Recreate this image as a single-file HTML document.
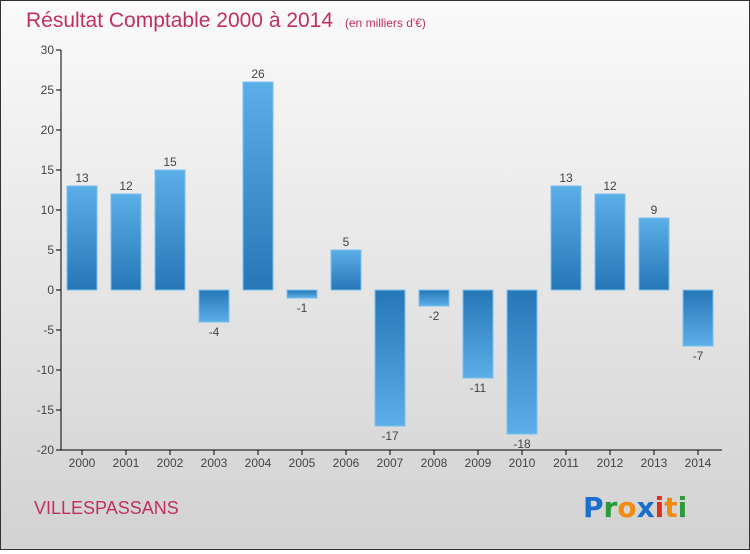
<!DOCTYPE html>
<html><head><meta charset="utf-8"><style>
body{margin:0}
#c{width:748px;height:548px;border:1px solid #333;background:linear-gradient(#fafafa,#d2d2d2);position:relative;font-family:"Liberation Sans",sans-serif}
</style></head><body>
<div id="c">
<svg width="748" height="548" id="svg">
<defs>
<linearGradient id="gp" x1="0" y1="0" x2="0" y2="1"><stop offset="0" stop-color="#5caee8"/><stop offset="1" stop-color="#2677b6"/></linearGradient>
<linearGradient id="gn" x1="0" y1="0" x2="0" y2="1"><stop offset="0" stop-color="#2677b6"/><stop offset="1" stop-color="#5caee8"/></linearGradient>
</defs>
<text x="25" y="26" font-size="21" fill="#c0305f">Résultat Comptable 2000 à 2014 <tspan font-size="12" dx="6">(en milliers d'€)</tspan></text>
<text x="33" y="513" font-size="18" fill="#c0305f">VILLESPASSANS</text>
<g font-size="28" font-weight="bold" font-family="'DejaVu Sans',sans-serif">
<text x="582" y="516" fill="#1a6fcc">P<tspan fill="#2a9a3a">r</tspan><tspan fill="#f08a10">o</tspan><tspan fill="#1a6fcc">x</tspan><tspan fill="#e03020">i</tspan><tspan fill="#f08a10">t</tspan><tspan fill="#2a9a3a">i</tspan></text>
</g>
<g id="plot"></g>
</svg>
</div>
<script>
const years=["2000","2001","2002","2003","2004","2005","2006","2007","2008","2009","2010","2011","2012","2013","2014"];
const values=[13,12,15,-4,26,-1,5,-17,-2,-11,-18,13,12,9,-7];
const yTicks=[30,25,20,15,10,5,0,-5,-10,-15,-20];
const NS="http://www.w3.org/2000/svg";
const g=document.getElementById('plot');
const y=v=>289-v*8, x=i=>81+i*44;
function mk(t,a,p){const e=document.createElementNS(NS,t);for(const k in a)e.setAttribute(k,a[k]);(p||g).appendChild(e);return e;}
yTicks.forEach(v=>{
 const l=mk('line',{x1:55,x2:60,y1:y(v),y2:y(v),stroke:'#000'});
 
 
 const t=mk('text',{x:53,y:y(v)+4,'text-anchor':'end','font-size':12,fill:'#444'});t.textContent=v;
 
 
});
values.forEach((v,i)=>{
 const r=mk('rect',{x:x(i)-15,width:30,y:v>=0?y(v):y(0),height:Math.abs(v)*8,fill:v>=0?'url(#gp)':'url(#gn)',stroke:'#7cc0ee','stroke-width':1});
 
 
 const t=mk('text',{x:x(i),y:v>=0?y(v)-4:y(v)+14,'text-anchor':'middle','font-size':12,fill:'#444'});t.textContent=v;
 
 
 const tk=mk('line',{x1:x(i),x2:x(i),y1:449,y2:454,stroke:'#000'});
 
 
 const xl=mk('text',{x:x(i),y:466,'text-anchor':'middle','font-size':12,fill:'#444'});xl.textContent=years[i];
 
 
});
const ya=mk('line',{x1:60,x2:60,y1:y(30),y2:449,stroke:'#000'});


const xa=mk('line',{x1:60,x2:721,y1:449,y2:449,stroke:'#000'});


</script>
</body></html>
